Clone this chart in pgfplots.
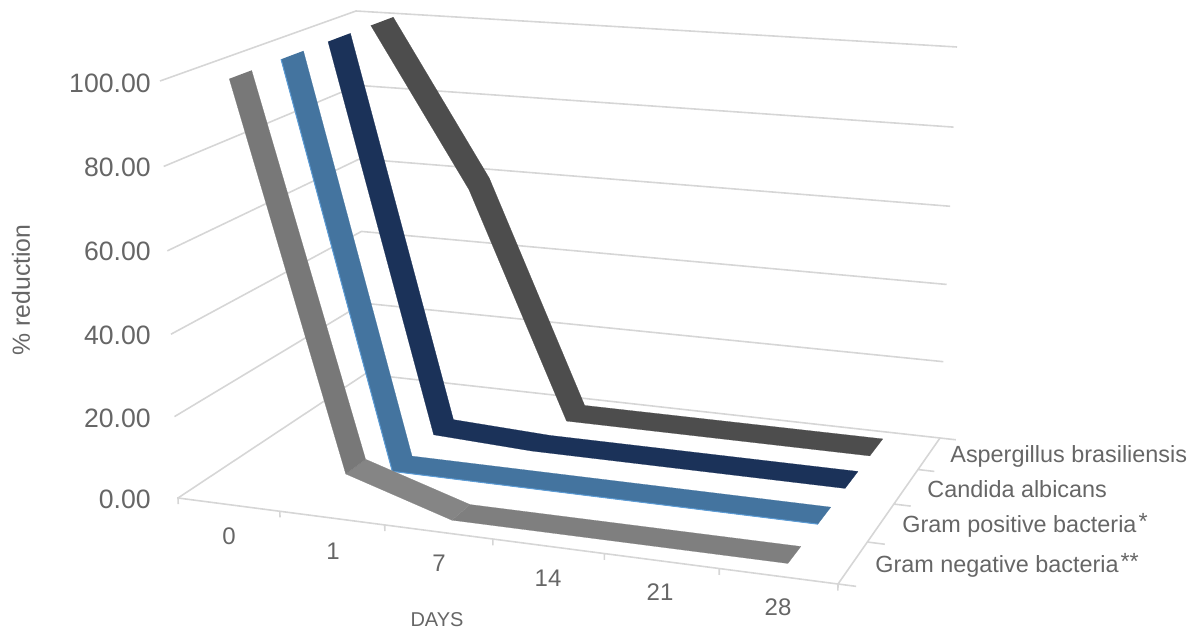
\documentclass[border=0pt]{standalone}
\usepackage{fontspec}
\setmainfont{Liberation Sans}
\usepackage{pgfplots}
\usepackage{pgfplotstable}
\pgfplotsset{compat=1.18}

\definecolor{gridc}{HTML}{D6D6D6}
\definecolor{txt}{HTML}{666666}
\definecolor{greyA}{HTML}{787878}
\definecolor{greyB}{HTML}{858585}
\definecolor{greyC}{HTML}{7F7F7F}
\definecolor{blueS}{HTML}{44749F}
\definecolor{blueE}{HTML}{5B9BD5}
\definecolor{navyS}{HTML}{1B3259}
\definecolor{darkS}{HTML}{4D4D4D}

% each ribbon: day position d, % reduction v, edge e (-1 front, +1 back)
\pgfplotstableread{
d v e
0 100 -1
1 8 -1
1 8 1
0 100 1
}\gramnegA
\pgfplotstableread{
d v e
1 8 -1
2 0 -1
2 0 1
1 8 1
}\gramnegB
\pgfplotstableread{
d v e
2 0 -1
5 0 -1
5 0 1
2 0 1
}\gramnegC
\pgfplotstableread{
d v e
0 100 -1
1 0 -1
5 0 -1
5 0 1
1 0 1
0 100 1
}\grampos
\pgfplotstableread{
d v e
0 100 -1
1 0 -1
5 0 -1
}\gramposedge
\pgfplotstableread{
d v e
0 100 -1
1 1.2 -1
2 0 -1
5 0 -1
5 0 1
2 0 1
1 1.2 1
0 100 1
}\candida
\pgfplotstableread{
d v e
0 100 -1
1 59 -1
2 0 -1
5 0 -1
5 0 1
2 0 1
1 59 1
0 100 1
}\asper

% floor outline with its tick marks, d and s in category units
\pgfplotstableread{
d s v
-0.5 -0.5 -1.5
-0.5 -0.5 0
0.5 -0.5 0
0.5 -0.5 -1.5
0.5 -0.5 0
1.5 -0.5 0
1.5 -0.5 -1.5
1.5 -0.5 0
2.5 -0.5 0
2.5 -0.5 -1.5
2.5 -0.5 0
3.5 -0.5 0
3.5 -0.5 -1.5
3.5 -0.5 0
4.5 -0.5 0
4.5 -0.5 -1.5
4.5 -0.5 0
5.5 -0.5 0
5.5 -0.5 -1.5
5.5 -0.5 0
5.65 -0.5 0
5.5 -0.5 0
5.5 0.5 0
5.65 0.5 0
5.5 0.5 0
5.5 1.5 0
5.65 1.5 0
5.5 1.5 0
5.5 2.5 0
5.65 2.5 0
5.5 2.5 0
5.5 3.5 0
5.65 3.5 0
}\floorticks

\newcommand{\ribbon}[3]{\addplot[fill=#1,draw=#1,line width=0.1pt] table[
  x expr={px(fd(\thisrow{d}),fs(#2)+0.059*\thisrow{e},fv(\thisrow{v}))},
  y expr={py(fd(\thisrow{d}),fs(#2)+0.059*\thisrow{e},fv(\thisrow{v}))}] {#3};}
\newcommand{\wall}[1]{\addplot[gridc,line width=0.8pt,line join=round] table[
  x expr={px(fd(\thisrow{d}),fs(\thisrow{s}),fv(#1))},
  y expr={py(fd(\thisrow{d}),fs(\thisrow{s}),fv(#1))},row sep=\\] {
  d s\\ -0.5 -0.5\\ -0.5 3.5\\ 5.5 3.5\\};}

\begin{document}
\begin{tikzpicture}
\begin{axis}[
  scale only axis,width=596pt,height=315pt,
  xmin=0,xmax=1192,ymin=0,ymax=630,y dir=reverse,
  hide axis,clip=false,
  declare function={
    fd(\d)=0.912*((\d+0.5)/6)/(1-0.088*((\d+0.5)/6));
    fs(\s)=1.21*((\s+0.5)/4)/(1+0.21*((\s+0.5)/4));
    fv(\v)=0.97*(\v/100)/(1-0.03*(\v/100));
    px(\u,\w,\t)=(1-\t)*((1-\w)*((1-\u)*178+\u*838)+\w*((1-\u)*365+\u*940))
      +\t*((1-\w)*((1-\u)*160+\u*846)+\w*((1-\u)*356+\u*957));
    py(\u,\w,\t)=(1-\t)*((1-\w)*((1-\u)*498+\u*584)+\w*((1-\u)*374+\u*438))
      +\t*((1-\w)*((1-\u)*81+\u*134)+\w*((1-\u)*11+\u*47));
  },
]
\path (axis cs:0,0) rectangle (axis cs:1192,630);

\wall{0}\wall{20}\wall{40}\wall{60}\wall{80}\wall{100}
\addplot[gridc,line width=0.8pt] table[
  x expr={px(fd(\thisrow{d}),fs(\thisrow{s}),fv(\thisrow{v}))},
  y expr={py(fd(\thisrow{d}),fs(\thisrow{s}),fv(\thisrow{v}))}] {\floorticks};

\ribbon{darkS}{3}{\asper}
\ribbon{navyS}{2}{\candida}
\ribbon{blueS}{1}{\grampos}
\addplot[blueE,line width=0.5pt] table[
  x expr={px(fd(\thisrow{d}),fs(1)+0.059*\thisrow{e},fv(\thisrow{v}))},
  y expr={py(fd(\thisrow{d}),fs(1)+0.059*\thisrow{e},fv(\thisrow{v}))}] {\gramposedge};
\ribbon{greyC}{0}{\gramnegC}
\ribbon{greyB}{0}{\gramnegB}
\ribbon{greyA}{0}{\gramnegA}

\begin{scope}[every node/.style={text=txt,font=\fontsize{12}{14}\selectfont,inner sep=0pt}]
\begin{scope}[every node/.append style={font=\fontsize{13.3}{15}\selectfont,anchor=east}]
\node at (axis cs:151,83) {100.00};
\node at (axis cs:151,167) {80.00};
\node at (axis cs:151,251) {60.00};
\node at (axis cs:151,335) {40.00};
\node at (axis cs:151,418) {20.00};
\node at (axis cs:151,499) {0.00};
\end{scope}
\node at (axis cs:229,536) {0};
\node at (axis cs:333,551) {1};
\node at (axis cs:439,563) {7};
\node at (axis cs:548,578) {14};
\node at (axis cs:660,592) {21};
\node at (axis cs:778,607) {28};
\node[rotate=90,font=\fontsize{12.4}{14}\selectfont] at (axis cs:21,290) {\% reduction};
\node[font=\fontsize{10}{12}\selectfont] at (axis cs:437,620) {DAYS};
\begin{scope}[every node/.append style={font=\fontsize{11.7}{14}\selectfont,anchor=base west}]
\node at (axis cs:950,462) {Aspergillus brasiliensis};
\node at (axis cs:927,497) {Candida albicans};
\node at (axis cs:902,532) {Gram positive bacteria\hspace{1pt}\raisebox{1.5pt}{*}};
\node at (axis cs:875,572) {Gram negative bacteria\hspace{1pt}\raisebox{1.5pt}{**}};
\end{scope}
\end{scope}
\end{axis}
\end{tikzpicture}
\end{document}
